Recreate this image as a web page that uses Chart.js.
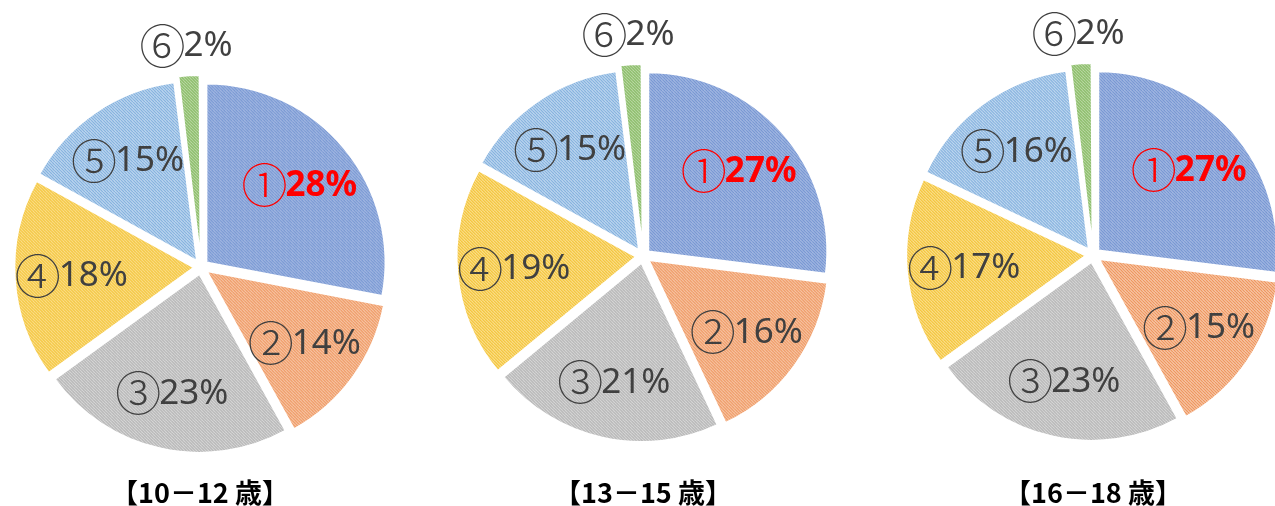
<!DOCTYPE html>
<html>
<head>
<meta charset="utf-8">
<script src="https://cdn.jsdelivr.net/npm/chart.js@4.4.1/dist/chart.umd.min.js"></script>
<style>
  html, body { margin: 0; padding: 0; background: #fff; overflow: hidden; }
  body { width: 1275px; height: 506px; position: relative; }
  .pie { position: absolute; top: 0; width: 440px; height: 506px; }
  .age {
    position: absolute; top: 475px; width: 260px; text-align: center;
    font-family: "Noto Sans CJK JP", sans-serif; font-weight: 700; font-size: 27px;
    color: #000; line-height: 34px;
  }
</style>
</head>
<body>
<div class="pie" style="left:-19px"><canvas id="pie1" width="440" height="506"></canvas></div>
<div class="pie" style="left:423px"><canvas id="pie2" width="440" height="506"></canvas></div>
<div class="pie" style="left:873px"><canvas id="pie3" width="440" height="506"></canvas></div>
<div class="age" style="left:70px" id="age1"></div>
<div class="age" style="left:513px" id="age2"></div>
<div class="age" style="left:963px" id="age3"></div>
<script>
// categories (circled numbers) and shares per age group
const categories = ['①', '②', '③', '④', '⑤', '⑥'];
const share1012 = [28, 14, 23, 18, 15, 2];
const share1315 = [27, 16, 21, 19, 15, 2];
const share1618 = [27, 15, 23, 17, 16, 2];
const ageLabels = ['【10－12 歳】', '【13－15 歳】', '【16－18 歳】'];

// hatch colours: light background, darker diagonal lines
const hatchBg = ['#d3def4', '#fbd9c2', '#ececec', '#ffeab0', '#dceaf8', '#d3e8c4'];
const hatchFg = ['#4f77c4', '#ec8a4c', '#a2a2a2', '#f0bb1c', '#6ea3d8', '#72ad49'];

function makeHatch(bg, fg) {
    const c = document.createElement('canvas');
    c.width = 6; c.height = 6;
    const g = c.getContext('2d');
    g.fillStyle = bg;
    g.fillRect(0, 0, 6, 6);
    g.strokeStyle = fg;
    g.lineWidth = 1.2;
    for (let x = -6; x <= 6; x += 3) {
        g.beginPath();
        g.moveTo(x, 0);
        g.lineTo(x + 6, 6);
        g.stroke();
    }
    return g.createPattern(c, 'repeat');
}

const pieLabels = {
    id: 'pieLabels',
    afterDatasetsDraw(chart) {
        const ctx = chart.ctx;
        const meta = chart.getDatasetMeta(0);
        const values = chart.data.datasets[0].data;
        const total = values.reduce((a, b) => a + b, 0);
        const numFont = '300 46px "Noto Sans CJK JP"';
        meta.data.forEach((arc, i) => {
            const p = arc.getProps(['x', 'y', 'startAngle', 'endAngle', 'outerRadius']);
            const mid = (p.startAngle + p.endAngle) / 2;
            const factor = values[i] / total < 0.05 ? 1.24 : 0.72;
            const px = p.x + Math.cos(mid) * p.outerRadius * factor;
            const py = p.y + Math.sin(mid) * p.outerRadius * factor;
            const isTop = i === 0;
            const color = isTop ? '#ff0000' : '#404040';
            const pctFont = (isTop ? 'bold ' : '') + '35px "Noto Sans"';
            const num = chart.data.labels[i];
            const pct = values[i] + '%';
            ctx.save();
            ctx.textBaseline = 'middle';
            ctx.textAlign = 'left';
            ctx.font = numFont;
            const w1 = ctx.measureText(num).width;
            ctx.font = pctFont;
            const w2 = ctx.measureText(pct).width;
            const x0 = px - (w1 + w2) / 2;
            ctx.fillStyle = color;
            ctx.font = numFont;
            ctx.fillText(num, x0, py);
            ctx.font = pctFont;
            ctx.fillText(pct, x0 + w1 - 2, py + 1);
            ctx.restore();
        });
    }
};

function init_pie(id, values, padTop) {
    const ctx = document.getElementById(id).getContext('2d');
    return new Chart(ctx, {
        type: 'pie',
        data: {
            labels: categories,
            datasets: [{
                data: values,
                backgroundColor: hatchBg.map((bg, i) => makeHatch(bg, hatchFg[i])),
                borderColor: '#ffffff',
                borderWidth: 2,
                offset: 28,
                radius: 179
            }]
        },
        options: {
            responsive: false,
            animation: false,
            layout: { padding: { top: padTop } },
            plugins: {
                legend: { display: false },
                tooltip: { enabled: false }
            }
        },
        plugins: [pieLabels]
    });
}

init_pie('pie1', share1012, 28);
init_pie('pie2', share1315, 6);
init_pie('pie3', share1618, 4);

document.getElementById('age1').textContent = ageLabels[0];
document.getElementById('age2').textContent = ageLabels[1];
document.getElementById('age3').textContent = ageLabels[2];
</script>
</body>
</html>
